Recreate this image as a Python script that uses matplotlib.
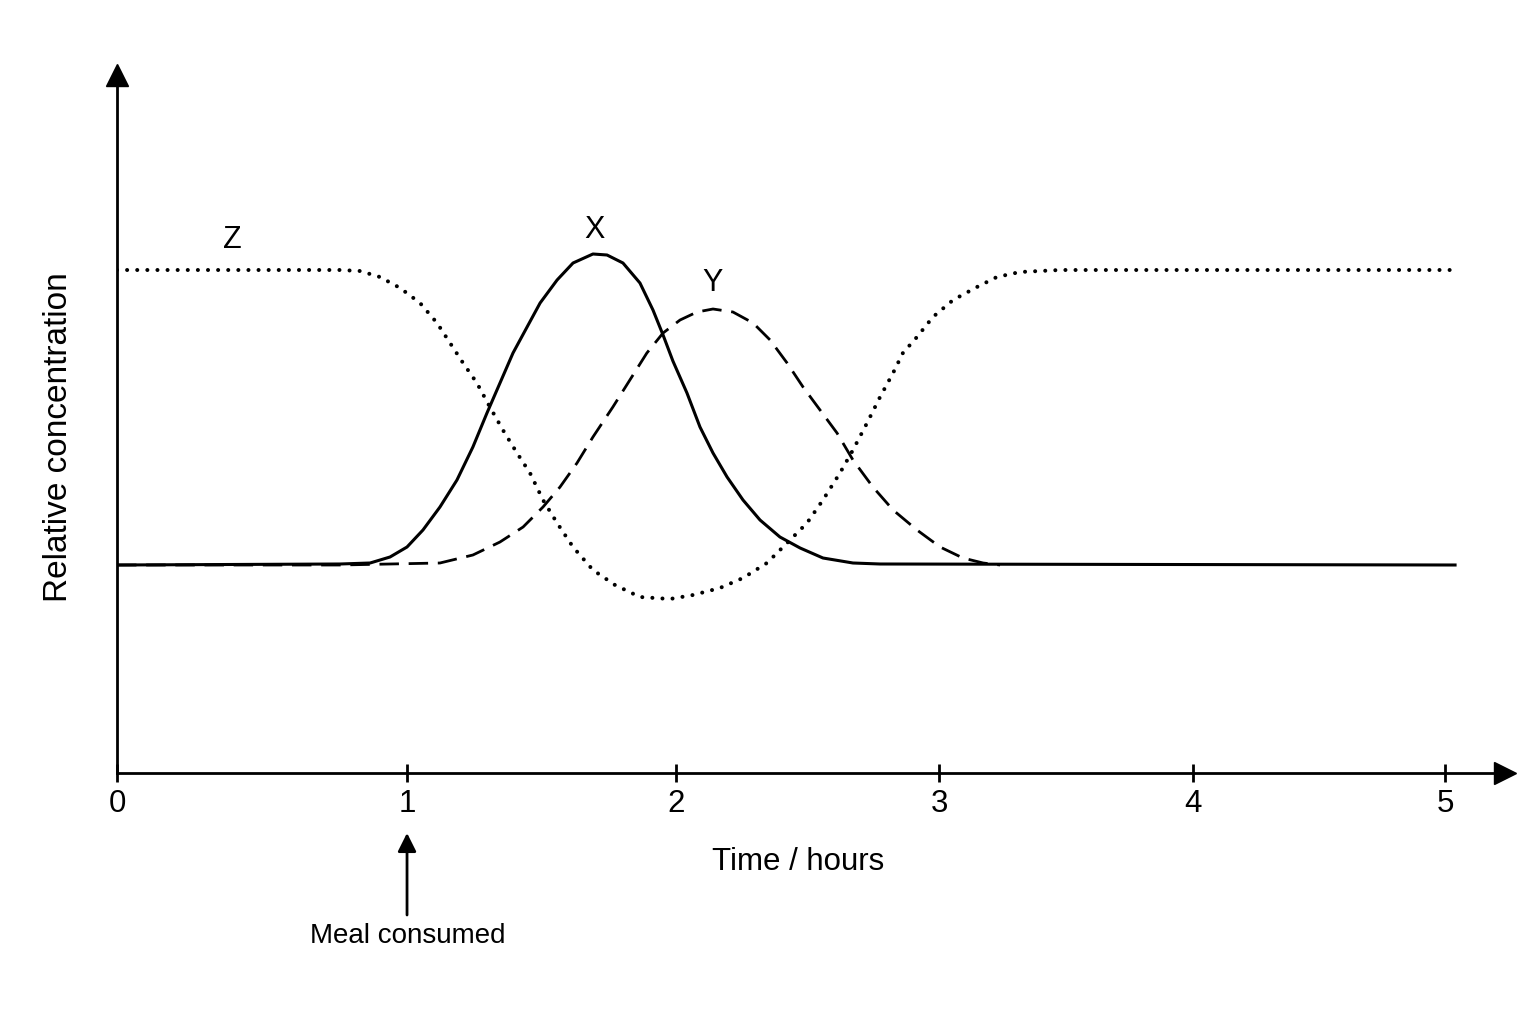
import matplotlib
matplotlib.use('Agg')
import matplotlib.pyplot as plt

plt.rcParams['font.family'] = ['Liberation Sans', 'DejaVu Sans']

# tick marks sit at uneven spacing in the original drawing
tick_pos = [0, 1.092, 2.105, 3.095, 4.051, 5.0]
tick_labels = ['0', '1', '2', '3', '4', '5']

# curve points (axis units)
z_x = [0, 0.840, 0.915, 0.990, 1.066, 1.141, 1.205, 1.254, 1.303, 1.355, 1.404,
       1.453, 1.506, 1.555, 1.604, 1.657, 1.717, 1.792, 1.875, 1.969, 2.082,
       2.169, 2.270, 2.357, 2.447, 2.523, 2.598, 2.658, 2.722, 2.771, 2.824,
       2.873, 2.922, 2.959, 3.012, 3.072, 3.148, 3.238, 3.313, 3.400, 3.550,
       5.038]
z_y = [5.03, 5.03, 5.02, 4.96, 4.85, 4.70, 4.50, 4.30, 4.10, 3.90, 3.66,
       3.43, 3.20, 3.00, 2.73, 2.50, 2.26, 2.03, 1.88, 1.76, 1.74,
       1.78, 1.85, 1.95, 2.10, 2.30, 2.50, 2.73, 3.00, 3.23, 3.50,
       3.76, 4.00, 4.20, 4.36, 4.56, 4.73, 4.86, 4.96, 5.01, 5.03,
       5.03]

x_x = [0, 0.840, 0.953, 1.028, 1.092, 1.152, 1.216, 1.280, 1.340, 1.393, 1.442,
       1.491, 1.544, 1.593, 1.657, 1.717, 1.792, 1.845, 1.905, 1.969, 2.018,
       2.056, 2.093, 2.146, 2.195, 2.244, 2.297, 2.357, 2.421, 2.496, 2.572,
       2.658, 2.771, 2.873, 5.038]
x_y = [2.08, 2.09, 2.10, 2.16, 2.26, 2.43, 2.66, 2.93, 3.26, 3.60, 3.90,
       4.20, 4.46, 4.70, 4.93, 5.10, 5.19, 5.18, 5.10, 4.90, 4.63,
       4.38, 4.12, 3.80, 3.46, 3.20, 2.96, 2.73, 2.53, 2.36, 2.25,
       2.15, 2.10, 2.09, 2.08]

y_x = [0, 0.840, 1.216, 1.340, 1.442, 1.529, 1.604, 1.668, 1.732, 1.792, 1.867,
       1.931, 1.995, 2.056, 2.120, 2.184, 2.244, 2.319, 2.395, 2.459, 2.523,
       2.583, 2.647, 2.711, 2.771, 2.846, 2.922, 3.012, 3.099, 3.185, 3.261,
       3.325]
y_y = [2.08, 2.08, 2.10, 2.18, 2.31, 2.46, 2.66, 2.86, 3.10, 3.36, 3.66,
       3.93, 4.20, 4.40, 4.53, 4.61, 4.64, 4.61, 4.50, 4.33, 4.10,
       3.86, 3.63, 3.40, 3.13, 2.86, 2.63, 2.43, 2.26, 2.15, 2.10,
       2.08]

fig = plt.figure(figsize=(15.36, 10.24), dpi=100)
ax = fig.add_axes([117 / 1536, 251 / 1024, 1388 / 1536, 698 / 1024])
ax.set_xlim(0, 5.226)
ax.set_ylim(0, 6.98)

ax.plot(y_x, y_y, color='black', lw=2.0, linestyle=(0, (7, 3.5)), zorder=2)
ax.plot(z_x, z_y, color='black', lw=2.9, linestyle=(0, (0.01, 2.5)),
        dash_capstyle='round', zorder=2)
ax.plot(x_x, x_y, color='black', lw=2.2, zorder=3)

# curve labels
ax.text(0.433, 5.33, 'Z', fontsize=22, ha='center', va='center')
ax.text(1.796, 5.43, 'X', fontsize=22, ha='center', va='center')
ax.text(2.244, 4.90, 'Y', fontsize=22, ha='center', va='center')

# axes with arrow heads
for side in ['top', 'right']:
    ax.spines[side].set_visible(False)
for side in ['left', 'bottom']:
    ax.spines[side].set_linewidth(2.0)
ax.plot(1, 0, '>k', ms=16, transform=ax.transAxes, clip_on=False)
ax.plot(0, 1, '^k', ms=16, transform=ax.transAxes, clip_on=False)

ax.set_xticks(tick_pos)
ax.set_xticklabels(tick_labels)
ax.set_yticks([])
ax.tick_params(axis='x', direction='inout', length=13, width=2.0,
               labelsize=22.5, pad=5)

ax.text(2.564, -0.89, 'Time / hours', fontsize=22.5, ha='center', va='center',
        clip_on=False)
ax.text(-0.222, 3.36, 'Relative concentration', fontsize=24, rotation=90,
        ha='center', va='center', clip_on=False)

# meal marker
ax.annotate('', xy=(1.092, -0.60), xytext=(1.092, -1.42),
            arrowprops=dict(arrowstyle='-|>', color='black', lw=2.0,
                            mutation_scale=28, shrinkA=0, shrinkB=0),
            annotation_clip=False)
ax.text(1.096, -1.63, 'Meal consumed', fontsize=20, ha='center', va='center',
        clip_on=False)

plt.savefig('out.png', dpi=100, facecolor='white')
